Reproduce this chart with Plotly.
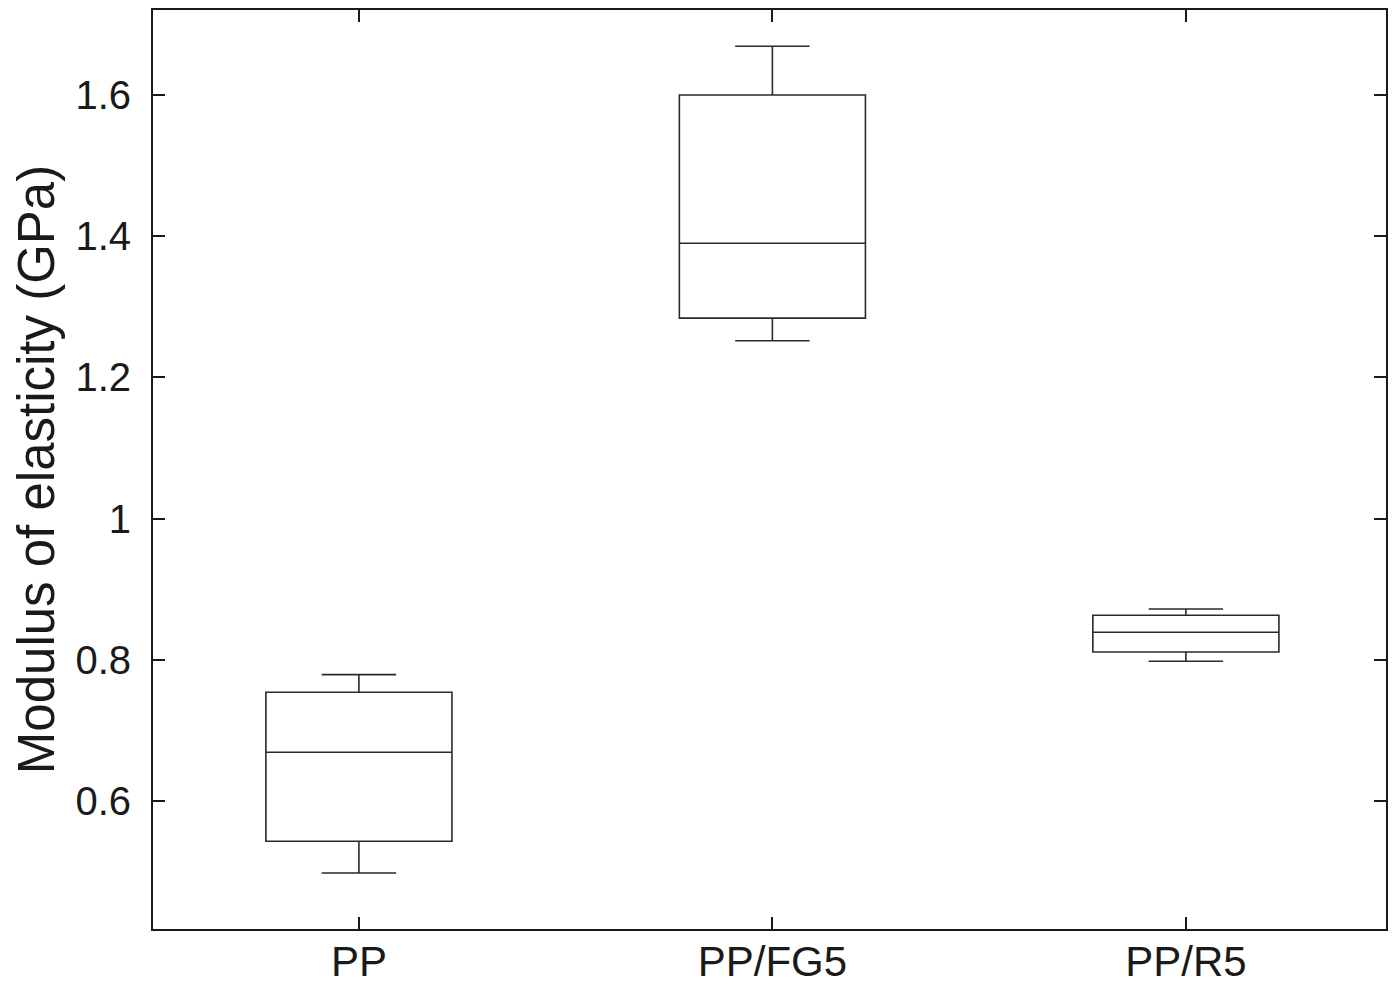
import plotly.graph_objects as go

# ==========================================================
# Data
# ==========================================================

groups = ["PP", "PP/FG5", "PP/R5"]

lower_whisker = [0.498, 1.252, 0.798]
q1_values = [0.543, 1.284, 0.811]
median_values = [0.669, 1.390, 0.839]
q3_values = [0.754, 1.600, 0.863]
upper_whisker = [0.779, 1.669, 0.872]

y_ticks = [0.6, 0.8, 1.0, 1.2, 1.4, 1.6]
y_tick_labels = ["0.6", "0.8", "1", "1.2", "1.4", "1.6"]

FONT = "Liberation Sans, Arial, Helvetica, sans-serif"

# ==========================================================
# Figure
# ==========================================================

fig = go.Figure()

fig.add_trace(
    go.Box(
        x=groups,
        lowerfence=lower_whisker,
        q1=q1_values,
        median=median_values,
        q3=q3_values,
        upperfence=upper_whisker,
        width=0.45,
        whiskerwidth=0.4,
        fillcolor="rgba(0,0,0,0)",
        line=dict(color="#2a2a2a", width=1.6),
        boxpoints=False,
        hoverinfo="skip",
        showlegend=False,
    )
)

axis_common = dict(
    showline=True,
    linecolor="#1a1a1a",
    linewidth=2,
    mirror="ticks",
    ticks="inside",
    ticklen=12,
    tickwidth=1.6,
    tickcolor="#1a1a1a",
    showgrid=False,
    zeroline=False,
    automargin=False,
)

# the page body adds an 8px border, so the figure is kept 16px smaller
# than the window and the ranges are trimmed to keep the marks in place
fig.update_xaxes(
    **axis_common,
    range=[-0.498, 2.484],
    tickfont=dict(family=FONT, size=42, color="#1a1a1a"),
    ticklabelstandoff=-5,
)

fig.update_yaxes(
    **axis_common,
    range=[0.4187, 1.7204],
    tickvals=y_ticks,
    ticktext=y_tick_labels,
    tickfont=dict(family=FONT, size=40, color="#1a1a1a"),
    ticklabelstandoff=12,
    title=dict(
        text="Modulus of elasticity (GPa)",
        font=dict(family=FONT, size=51, color="#1a1a1a"),
        standoff=44,
    ),
)

fig.update_layout(
    width=1380,
    height=970,
    margin=dict(l=145, r=2, t=2, b=49),
    plot_bgcolor="white",
    paper_bgcolor="white",
)

fig.write_html("out.html")
